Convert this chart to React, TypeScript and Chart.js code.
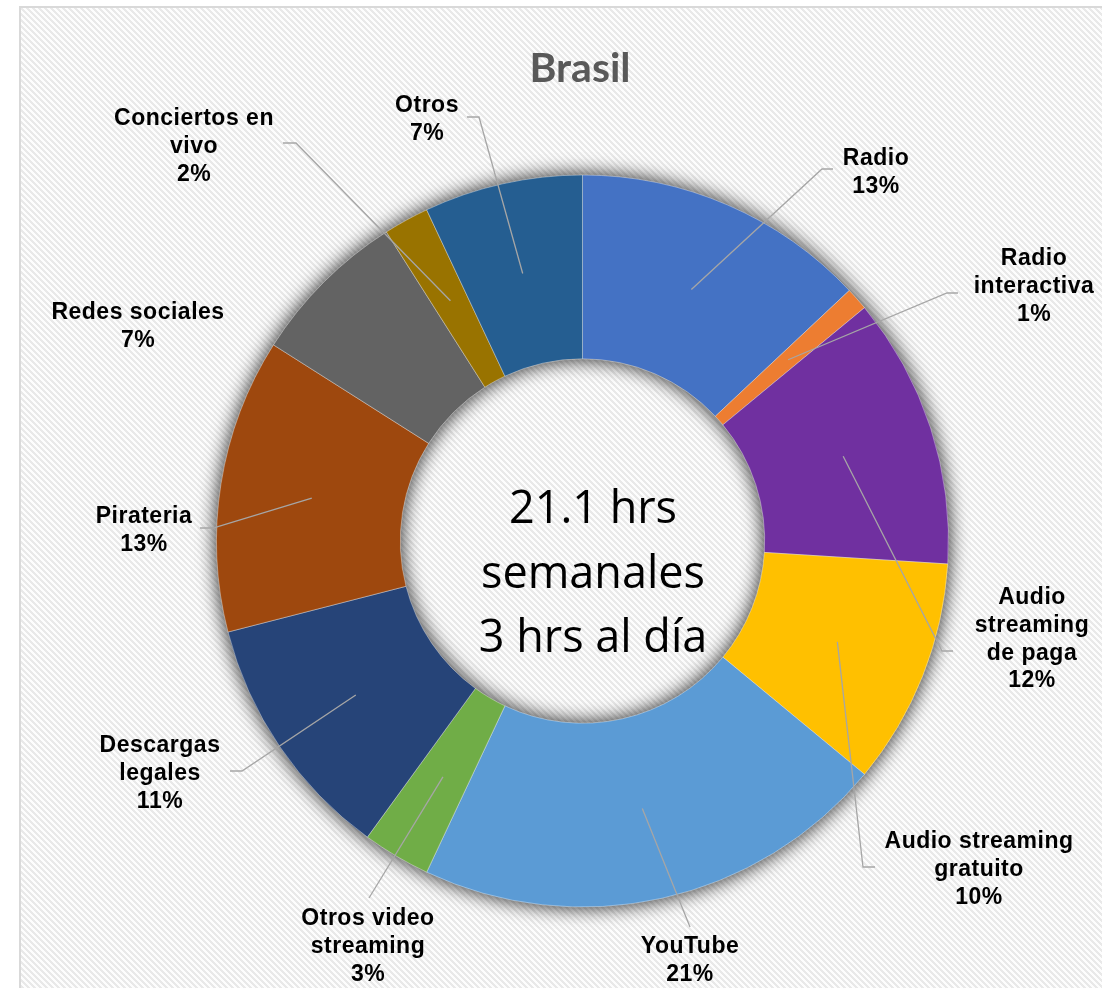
import React, { useEffect, useRef } from "react";
import { Chart, registerables } from "chart.js";

Chart.register(...registerables);

// ---------- data ----------
const TITLE = "Brasil";
const CATEGORIES = [
  "Radio",
  "Radio interactiva",
  "Audio streaming de paga",
  "Audio streaming gratuito",
  "YouTube",
  "Otros video streaming",
  "Descargas legales",
  "Pirateria",
  "Redes sociales",
  "Conciertos en vivo",
  "Otros",
];
const VALUES = [13, 1, 12, 10, 21, 3, 11, 13, 7, 2, 7];
const LABEL_LINES = [
  ["Radio"],
  ["Radio", "interactiva"],
  ["Audio", "streaming", "de paga"],
  ["Audio streaming", "gratuito"],
  ["YouTube"],
  ["Otros video", "streaming"],
  ["Descargas", "legales"],
  ["Pirateria"],
  ["Redes sociales"],
  ["Conciertos en", "vivo"],
  ["Otros"],
];
const CENTER_LINES = ["21.1 hrs", "semanales", "3 hrs al día"];

// ---------- styles / layout ----------
const COLORS = [
  "#4472C4",
  "#ED7D31",
  "#7030A0",
  "#FFC000",
  "#5B9BD5",
  "#70AD47",
  "#264478",
  "#9E480E",
  "#636363",
  "#997300",
  "#255E91",
];
// text centre x, first baseline y, leader end (lx, ly), elbow end x (hx)
const LABEL_LAYOUT: { x: number; y: number; lx?: number; ly?: number; hx?: number }[] = [
  { x: 876, y: 165, lx: 822, ly: 169, hx: 833 },
  { x: 1034, y: 265, lx: 947, ly: 293, hx: 958 },
  { x: 1032, y: 604, lx: 942, ly: 651, hx: 953 },
  { x: 979, y: 848, lx: 863, ly: 867, hx: 875 },
  { x: 690, y: 953, lx: 690, ly: 927 },
  { x: 368, y: 925, lx: 369, ly: 898 },
  { x: 160, y: 752, lx: 242, ly: 771, hx: 230 },
  { x: 144, y: 523, lx: 213, ly: 528, hx: 200 },
  { x: 138, y: 319 },
  { x: 194, y: 125, lx: 296, ly: 143, hx: 283 },
  { x: 427, y: 112, lx: 479, ly: 117, hx: 467 },
];

const W = 1102;
const H = 988;

function makePattern(ctx: CanvasRenderingContext2D) {
  const c = document.createElement("canvas");
  const n = 6;
  c.width = n;
  c.height = n;
  const g = c.getContext("2d")!;
  const img = g.createImageData(n, n);
  for (let y = 0; y < n; y++) {
    for (let x = 0; x < n; x++) {
      const k = (((x - y) % n) + n) % n;
      const v = k < 3 ? 233 : 253;
      const i = (y * n + x) * 4;
      img.data[i] = v;
      img.data[i + 1] = v;
      img.data[i + 2] = v;
      img.data[i + 3] = 255;
    }
  }
  g.putImageData(img, 0, 0);
  return ctx.createPattern(c, "repeat")!;
}

const decorPlugin = {
  id: "decor",
  beforeDraw(chart: any) {
    const ctx: CanvasRenderingContext2D = chart.ctx;
    ctx.save();
    ctx.fillStyle = "#ffffff";
    ctx.fillRect(0, 0, chart.width, chart.height);
    ctx.fillStyle = makePattern(ctx);
    ctx.fillRect(21, 8, chart.width, chart.height);
    ctx.strokeStyle = "#d9d9d9";
    ctx.lineWidth = 2;
    ctx.strokeRect(20, 7, chart.width + 40, chart.height + 40);
    ctx.restore();
  },
  beforeDatasetsDraw(chart: any) {
    const ctx: CanvasRenderingContext2D = chart.ctx;
    const a = chart.getDatasetMeta(0).data[0];
    const { x, y, outerRadius, innerRadius } = a.getProps(
      ["x", "y", "outerRadius", "innerRadius"],
      true
    );
    ctx.save();
    ctx.shadowColor = "rgba(0,0,0,0.55)";
    ctx.shadowBlur = 20;
    ctx.shadowOffsetX = 0;
    ctx.shadowOffsetY = 0;
    ctx.fillStyle = "#777777";
    for (let k = 0; k < 2; k++) {
      ctx.beginPath();
      ctx.arc(x, y, outerRadius - 1, 0, Math.PI * 2, false);
      ctx.arc(x, y, innerRadius + 1, 0, Math.PI * 2, true);
      ctx.closePath();
      ctx.fill();
    }
    ctx.restore();
  },
  afterDatasetsDraw(chart: any) {
    const ctx: CanvasRenderingContext2D = chart.ctx;
    const meta = chart.getDatasetMeta(0);
    const total = VALUES.reduce((s, v) => s + v, 0);
    const first = meta.data[0].getProps(["x", "y"], true);
    const cx = first.x;
    const cy = first.y;

    // leader lines
    ctx.save();
    ctx.strokeStyle = "#a6a6a6";
    ctx.lineWidth = 1.3;
    meta.data.forEach((arc: any, i: number) => {
      const L = LABEL_LAYOUT[i];
      if (L.lx === undefined) return;
      const p = arc.getProps(
        ["startAngle", "endAngle", "innerRadius", "outerRadius", "x", "y"],
        true
      );
      const mid = (p.startAngle + p.endAngle) / 2;
      const r = (p.innerRadius + p.outerRadius) / 2;
      const sx = p.x + Math.cos(mid) * r;
      const sy = p.y + Math.sin(mid) * r;
      ctx.beginPath();
      ctx.moveTo(sx, sy);
      ctx.lineTo(L.lx!, L.ly!);
      if (L.hx !== undefined) ctx.lineTo(L.hx, L.ly!);
      ctx.stroke();
    });
    ctx.restore();

    // data labels
    ctx.save();
    ctx.fillStyle = "#000000";
    ctx.font = "bold 23px 'Liberation Sans', Arial, sans-serif";
    (ctx as any).letterSpacing = "0.5px";
    ctx.textAlign = "center";
    ctx.textBaseline = "alphabetic";
    VALUES.forEach((v, i) => {
      const L = LABEL_LAYOUT[i];
      const lines = [...LABEL_LINES[i], Math.round((v / total) * 100) + "%"];
      lines.forEach((t, j) => ctx.fillText(t, L.x, L.y + j * 27.8));
    });
    ctx.restore();

    // centre text
    ctx.save();
    ctx.fillStyle = "#000000";
    ctx.font = "45px 'Open Sans', sans-serif";
    ctx.textAlign = "center";
    ctx.textBaseline = "alphabetic";
    CENTER_LINES.forEach((t, j) => ctx.fillText(t, cx + 10.5, cy - 18 + j * 64.5));
    ctx.restore();

    // title
    ctx.save();
    ctx.fillStyle = "#595959";
    ctx.font = "bold 41px Lato, sans-serif";
    ctx.textAlign = "center";
    ctx.textBaseline = "alphabetic";
    ctx.fillText(TITLE, 580, 82);
    ctx.restore();
  },
};

export default function App() {
  const ref = useRef<HTMLCanvasElement | null>(null);
  useEffect(() => {
    document.body.style.margin = "0";
    const chart = new Chart(ref.current!, {
      type: "doughnut",
      data: {
        labels: CATEGORIES,
        datasets: [
          {
            data: VALUES,
            backgroundColor: COLORS,
            borderColor: "rgba(255,255,255,0.45)",
            borderWidth: 0.8,
          },
        ],
      },
      options: {
        responsive: false,
        animation: false,
        radius: 366,
        cutout: 182,
        layout: { padding: { left: 216, right: 153, top: 175, bottom: 81 } },
        plugins: {
          legend: { display: false },
          title: { display: false },
          tooltip: { enabled: false },
        },
      },
      plugins: [decorPlugin],
    });
    return () => chart.destroy();
  }, []);
  return (
    <div style={{ width: W, height: H }}>
      <canvas ref={ref} width={W} height={H} style={{ display: "block" }} />
    </div>
  );
}
